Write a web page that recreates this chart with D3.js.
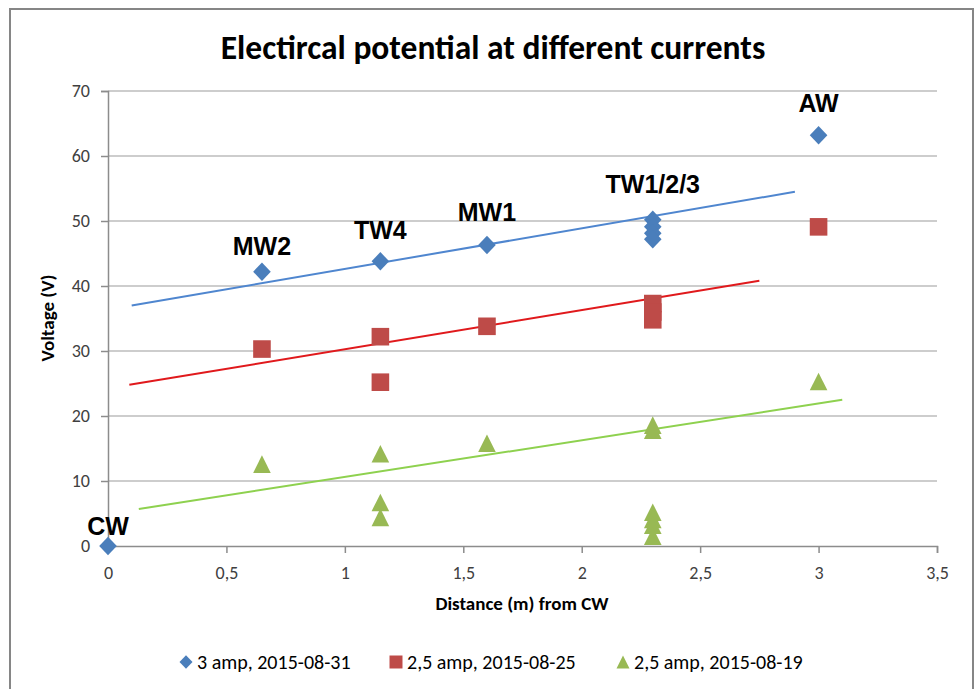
<!DOCTYPE html>
<html>
<head>
<meta charset="utf-8">
<script src="https://cdn.jsdelivr.net/npm/d3@7"></script>
<style>
  body { margin: 0; background: #fff; }
  svg { display: block; }
</style>
</head>
<body>
<div id="chart"></div>
<script>
'use strict';

// Data
const xTicks = [0, 0.5, 1, 1.5, 2, 2.5, 3, 3.5];
const yTicks = [0, 10, 20, 30, 40, 50, 60, 70];

const amp3 = [[0, 0], [0.65, 42.2], [1.15, 43.8], [1.6, 46.3],
  [2.3, 50.2], [2.3, 49.1], [2.3, 48.1], [2.3, 47.2], [3, 63.2]];
const amp25a = [[0.65, 30.3], [1.15, 32.2], [1.15, 25.2], [1.6, 33.8],
  [2.3, 37.3], [2.3, 36.0], [2.3, 34.8], [3, 49.1]];
const amp25b = [[0.65, 12.6], [1.15, 14.2], [1.15, 6.7], [1.15, 4.4], [1.6, 15.8],
  [2.3, 18.6], [2.3, 17.8], [2.3, 5.2], [2.3, 4.1], [2.3, 3.2], [2.3, 1.5], [3, 25.3]];

// trend line end points [x, y]
const trend3 = [[0.1, 37.0], [2.9, 54.5]];
const trend25a = [[0.09, 24.8], [2.75, 40.8]];
const trend25b = [[0.13, 5.7], [3.1, 22.5]];

// well names, placed above the points (x, baseline in data units)
const wellLabels = [
  { name: 'CW', x: 0, y: 1.7 },
  { name: 'MW2', x: 0.65, y: 44.8 },
  { name: 'TW4', x: 1.15, y: 47.2 },
  { name: 'MW1', x: 1.6, y: 50.0 },
  { name: 'TW1/2/3', x: 2.3, y: 54.3 },
  { name: 'AW', x: 3, y: 66.8 }
];

const seriesNames = ['3 amp, 2015-08-31', '2,5 amp, 2015-08-25', '2,5 amp, 2015-08-19'];

const width = 975, height = 689;
const font = 'Carlito, Calibri, Lato, "Open Sans", sans-serif';

// marker shapes
function diamond(r) { return `M0,${-r * 1.05}L${r},0L0,${r * 1.05}L${-r},0Z`; }
function square(r) { return `M${-r},${-r}H${r}V${r}H${-r}Z`; }
function triangle(r) { return `M0,${-r}L${r},${r}L${-r},${r}Z`; }

const series = [
  { data: amp3, trend: trend3, color: '#4a7ebb', trendColor: '#4f86cf', shape: diamond },
  { data: amp25a, trend: trend25a, color: '#be4b48', trendColor: '#e0191c', shape: square },
  { data: amp25b, trend: trend25b, color: '#98b954', trendColor: '#8ed14f', shape: triangle }
];

let svg = d3.select('#chart').append('svg')
  .attr('width', width).attr('height', height);

// outer frame
svg.append('rect')
  .attr('x', 10).attr('y', 9)
  .attr('width', 963).attr('height', 700)
  .attr('fill', '#fff')
  .attr('stroke', '#868686').attr('stroke-width', 2);

let x = d3.scaleLinear().domain([0, 3.5]).range([108, 937]);
let y = d3.scaleLinear().domain([0, 70]).range([546, 91]);

// gridlines
svg.append('g')
  .selectAll('line')
  .data(yTicks.filter(d => d > 0))
  .join('line')
  .attr('x1', x(0)).attr('x2', x(3.5))
  .attr('y1', d => y(d)).attr('y2', d => y(d))
  .attr('stroke', '#bcbcbc').attr('stroke-width', 1.5);

const fmt = d => String(d).replace('.', ',');

// y axis
let yAxis = svg.append('g')
  .attr('transform', `translate(${x(0)},0)`)
  .call(d3.axisLeft(y).tickValues(yTicks).tickSize(7).tickPadding(11).tickFormat(fmt));

// x axis
let xAxis = svg.append('g')
  .attr('transform', `translate(0,${y(0)})`)
  .call(d3.axisBottom(x).tickValues(xTicks).tickSize(7).tickPadding(13).tickFormat(fmt));

[xAxis, yAxis].forEach(a => {
  a.select('.domain').attr('stroke', '#8c8c8c').attr('stroke-width', 1.5);
  a.selectAll('.tick line').attr('stroke', '#8c8c8c').attr('stroke-width', 1.5);
  a.selectAll('.tick text')
    .attr('fill', '#404040')
    .style('font-family', font)
    .style('font-size', '18px');
});

// trend lines
let line = d3.line().x(d => x(d[0])).y(d => y(d[1]));
svg.append('g')
  .selectAll('path')
  .data(series)
  .join('path')
  .attr('d', d => line(d.trend))
  .attr('fill', 'none')
  .attr('stroke', d => d.trendColor)
  .attr('stroke-width', 2);

// markers
series.forEach(s => {
  svg.append('g')
    .selectAll('path')
    .data(s.data)
    .join('path')
    .attr('transform', d => `translate(${x(d[0])},${y(d[1])})`)
    .attr('d', s.shape(8.8))
    .attr('fill', s.color);
});

// well labels
svg.append('g')
  .selectAll('text')
  .data(wellLabels)
  .join('text')
  .attr('x', d => x(d.x))
  .attr('y', d => y(d.y))
  .attr('text-anchor', 'middle')
  .style('font-family', '"Liberation Sans", Arial, sans-serif')
  .style('font-weight', 'bold')
  .style('font-size', '25px')
  .attr('fill', '#000')
  .text(d => d.name);

// title
svg.append('text')
  .attr('x', 493).attr('y', 59)
  .attr('text-anchor', 'middle')
  .style('font-family', font)
  .style('font-weight', 'bold')
  .style('font-size', '33.5px')
  .text('Electircal potential at different currents');

// axis titles
svg.append('text')
  .attr('x', 522).attr('y', 610)
  .attr('text-anchor', 'middle')
  .style('font-family', font)
  .style('font-weight', 'bold')
  .style('font-size', '19px')
  .text('Distance (m) from CW');

svg.append('text')
  .attr('transform', 'translate(54,318) rotate(-90)')
  .attr('text-anchor', 'middle')
  .style('font-family', font)
  .style('font-weight', 'bold')
  .style('font-size', '19px')
  .text('Voltage (V)');

// legend
const legendX = [186, 396, 623];
let legend = svg.append('g')
  .selectAll('g')
  .data(series)
  .join('g')
  .attr('transform', (d, i) => `translate(${legendX[i]},662)`);

legend.append('path')
  .attr('d', d => d.shape(6.5))
  .attr('fill', d => d.color);

legend.append('text')
  .attr('x', 11).attr('y', 7)
  .style('font-family', font)
  .style('font-size', '20px')
  .attr('fill', '#000')
  .text((d, i) => seriesNames[i]);
</script>
</body>
</html>
